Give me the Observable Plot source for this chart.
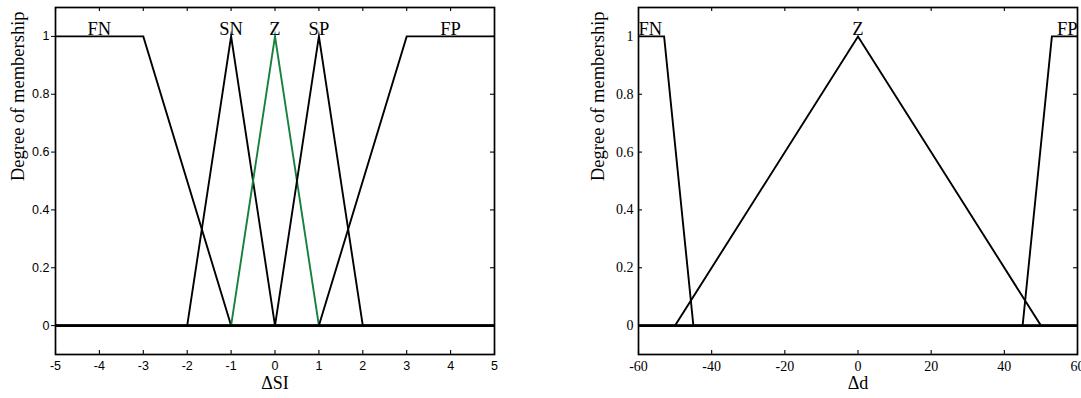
<!DOCTYPE html>
<html><head><meta charset="utf-8">
<script src="https://cdn.jsdelivr.net/npm/d3@7"></script>
<script src="https://cdn.jsdelivr.net/npm/@observablehq/plot@0.6"></script>
<style>
html,body{margin:0;padding:0;background:#fff;}
#wrap{position:relative;width:1081px;height:398px;overflow:hidden;background:#fff;}
#left,#right{position:absolute;top:0;}
#left{left:0;width:540px;}
#right{left:540px;width:541px;}
</style></head><body>
<div id="wrap"><div id="left"></div><div id="right"></div></div>
<script>
// ---------- data ----------
const yTicks = [0, 0.2, 0.4, 0.6, 0.8, 1];
const yLabel = "Degree of membership";
const baseline = [0];

// Left panel: ΔSI
const siTicks = [-5, -4, -3, -2, -1, 0, 1, 2, 3, 4, 5];
const siNames = ["FN", "SN", "Z", "SP", "FP"];
const siCenters = [-4, -1, 0, 1, 4];
const siFN_x = [-5, -3, -1, 5],        siFN_y = [1, 1, 0, 0];
const siSN_x = [-5, -2, -1, 0, 5],     siSN_y = [0, 0, 1, 0, 0];
const siZ_x  = [-5, -1, 0, 1, 5],      siZ_y  = [0, 0, 1, 0, 0];
const siSP_x = [-5, 0, 1, 2, 5],       siSP_y = [0, 0, 1, 0, 0];
const siFP_x = [-5, 1, 3, 5],          siFP_y = [0, 0, 1, 1];
const siXLabel = "ΔSI";

// Right panel: Δd
const dTicks = [-60, -40, -20, 0, 20, 40, 60];
const dNames = ["FN", "Z", "FP"];
const dCenters = [-60, 0, 60];
const dAnchors = ["start", "middle", "end"];
const dFN_x = [-60, -53, -45, 60],     dFN_y = [1, 1, 0, 0];
const dZ_x  = [-60, -50, 0, 50, 60],   dZ_y  = [0, 0, 1, 0, 0];
const dFP_x = [-60, 45, 53, 60],       dFP_y = [0, 0, 1, 1];
const dXLabel = "Δd";

// ---------- helpers ----------
const rows = (xs, ys) => xs.map((x, i) => ({x, y: ys[i]}));
const SERIF = "'Liberation Serif', 'Times New Roman', serif";
const SANS = "'Liberation Sans', Arial, Helvetica, sans-serif";
const GREEN = "#17803d";
const H = 398, MT = 7, MB = 44;
const FH = H - MT - MB;

function panel(o) {
  const FW = o.width - o.marginLeft - o.marginRight;
  const lineOpts = (color) => ({x: "x", y: "y", stroke: color, strokeWidth: 1.9,
    strokeLinejoin: "miter", strokeMiterlimit: 12, strokeLinecap: "butt"});
  const marks = [
    Plot.axisX({ticks: o.xTicks, tickSize: 0, tickPadding: 7, label: null,
      fontFamily: o.tickFont, fontSize: o.tickFontSize, tickFormat: d => String(d)}),
    Plot.axisY({ticks: yTicks, tickSize: o.leftOut ? 4 : 0, tickPadding: o.leftOut ? 2 : 5, label: null,
      fontFamily: o.tickFont, fontSize: o.tickFontSize, tickFormat: d => String(d)}),
    Plot.tickX(o.xTicks, {x: d => d, insetTop: FH - 4, stroke: "#000", strokeWidth: 1.1}),
    Plot.tickX(o.xTicks, {x: d => d, insetBottom: FH - 4, stroke: "#000", strokeWidth: 1.1}),
    Plot.tickY(yTicks, {y: d => d, insetLeft: FW - 4, stroke: "#000", strokeWidth: 1.1}),
  ];
  if (!o.leftOut) marks.push(Plot.tickY(yTicks, {y: d => d, insetRight: FW - 4, stroke: "#000", strokeWidth: 1.1}));
  for (const s of o.series) marks.push(Plot.line(s.data, lineOpts(s.color)));
  marks.push(Plot.ruleY(baseline, {stroke: "#000", strokeWidth: 2.6}));
  marks.push(Plot.frame({stroke: "#000", strokeWidth: 1.7}));
  for (const l of o.labels) {
    marks.push(Plot.text([l], {x: "x", text: "name", frameAnchor: "top", dy: 14,
      textAnchor: l.anchor || "middle", fontFamily: SERIF, fontSize: 18.5, fill: "#000"}));
  }
  marks.push(Plot.text([o.xLabel], {text: d => d, frameAnchor: "bottom", dy: 34,
    fontFamily: SERIF, fontSize: 18, fill: "#000"}));
  marks.push(Plot.text([yLabel], {text: d => d, frameAnchor: "left", rotate: -90, dx: o.yLabelDx,
    fontFamily: SERIF, fontSize: 18.5, fill: "#000"}));
  return Plot.plot({
    width: o.width, height: H,
    marginLeft: o.marginLeft, marginRight: o.marginRight, marginTop: MT, marginBottom: MB,
    x: {domain: o.xDomain},
    y: {domain: [-0.1, 1.1]},
    style: {background: "#fff", color: "#000", fontFamily: o.tickFont, fontSize: o.tickFontSize + "px", overflow: "visible"},
    marks
  });
}

document.getElementById("left").append(panel({
  width: 540, marginLeft: 55, marginRight: 46,
  xDomain: [-5, 5], xTicks: siTicks, leftOut: true,
  tickFont: SANS, tickFontSize: 12.5, yLabelDx: -37.5, xLabel: siXLabel,
  series: [
    {data: rows(siFN_x, siFN_y), color: "#000"},
    {data: rows(siSN_x, siSN_y), color: "#000"},
    {data: rows(siZ_x, siZ_y), color: GREEN},
    {data: rows(siSP_x, siSP_y), color: "#000"},
    {data: rows(siFP_x, siFP_y), color: "#000"},
  ],
  labels: siNames.map((name, i) => ({name, x: siCenters[i]}))
}));

document.getElementById("right").append(panel({
  width: 541, marginLeft: 98, marginRight: 4,
  xDomain: [-60, 60], xTicks: dTicks, leftOut: false,
  tickFont: SERIF, tickFontSize: 14, yLabelDx: -40.5, xLabel: dXLabel,
  series: [
    {data: rows(dFN_x, dFN_y), color: "#000"},
    {data: rows(dZ_x, dZ_y), color: "#000"},
    {data: rows(dFP_x, dFP_y), color: "#000"},
  ],
  labels: dNames.map((name, i) => ({name, x: dCenters[i], anchor: dAnchors[i]}))
}));
</script>
</body></html>
